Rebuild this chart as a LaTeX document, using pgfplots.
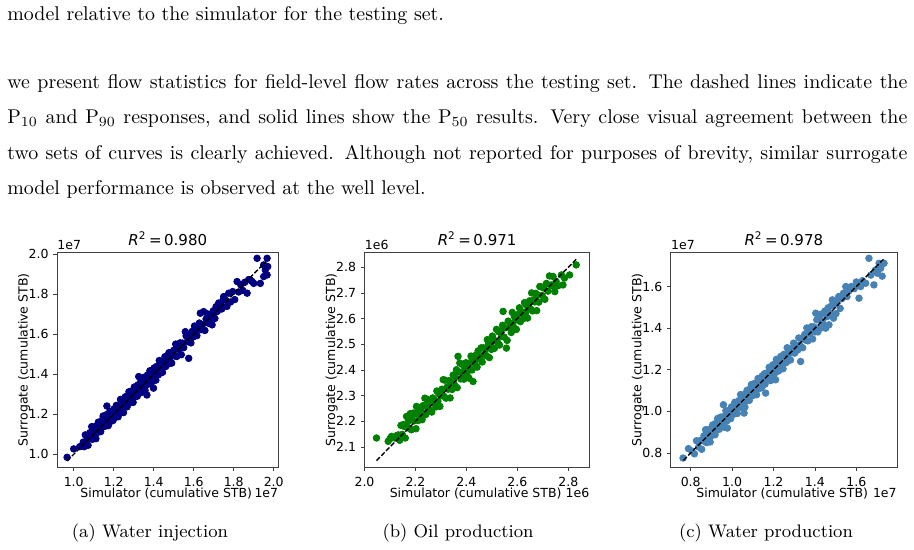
\documentclass[border=0pt]{standalone}
\usepackage{fontspec}
\usepackage{pgfplots}
\pgfplotsset{compat=1.18}
\newfontfamily\djv{DejaVu Sans}
\definecolor{cnavy}{HTML}{000080}
\definecolor{cgreen}{HTML}{008000}
\definecolor{csteel}{HTML}{4682B4}
\newcommand{\mplfont}{\djv\fontsize{6.25}{7.5}\selectfont}
\newcommand{\mpltitle}{\djv\fontsize{7.5}{9}\selectfont}

\pgfplotsset{
  sc/.style={
    scale only axis,
    height=107.2pt,
    anchor=south west,
    axis line style={black!75, line width=0.45pt},
    tick align=outside,
    xtick pos=left, ytick pos=left,
    major tick length=1.8pt,
    tick style={black!75, line width=0.4pt},
    ticklabel style={font=\mplfont},
    yticklabel style={xshift=1.1pt},
    clip=true,
    clip mode=individual,
  },
  pts/.style={only marks, mark=*, mark size=1.65pt},
  diag/.style={black, line width=0.7pt, dash pattern=on 2.4pt off 1pt},
}

\pgfplotstableread{
x y
0.967 0.985
1.000 1.027
1.030 1.038
1.048 1.061
1.052 1.038
1.058 1.097
1.063 1.062
1.067 1.089
1.072 1.045
1.076 1.086
1.081 1.108
1.086 1.080
1.090 1.138
1.094 1.075
1.099 1.115
1.103 1.108
1.107 1.139
1.111 1.078
1.115 1.134
1.119 1.109
1.123 1.160
1.127 1.129
1.131 1.155
1.135 1.113
1.139 1.168
1.143 1.139
1.147 1.191
1.151 1.158
1.155 1.139
1.159 1.176
1.162 1.197
1.166 1.241
1.169 1.161
1.173 1.143
1.176 1.189
1.180 1.213
1.183 1.163
1.187 1.193
1.190 1.180
1.194 1.212
1.197 1.169
1.200 1.225
1.204 1.199
1.207 1.212
1.210 1.188
1.213 1.244
1.216 1.207
1.219 1.233
1.222 1.187
1.225 1.227
1.228 1.247
1.231 1.217
1.234 1.274
1.237 1.210
1.240 1.248
1.243 1.240
1.246 1.270
1.249 1.208
1.252 1.263
1.255 1.237
1.258 1.287
1.261 1.255
1.264 1.280
1.267 1.237
1.270 1.291
1.273 1.261
1.276 1.312
1.279 1.278
1.282 1.258
1.285 1.294
1.288 1.315
1.291 1.275
1.294 1.297
1.297 1.259
1.300 1.313
1.303 1.336
1.306 1.286
1.309 1.315
1.312 1.302
1.315 1.333
1.318 1.290
1.321 1.346
1.325 1.388
1.327 1.322
1.330 1.325
1.333 1.358
1.336 1.308
1.339 1.357
1.342 1.332
1.345 1.351
1.348 1.328
1.351 1.384
1.354 1.367
1.357 1.319
1.360 1.363
1.363 1.347
1.366 1.296
1.369 1.396
1.372 1.381
1.375 1.351
1.378 1.377
1.381 1.417
1.384 1.372
1.387 1.408
1.390 1.360
1.393 1.409
1.396 1.390
1.399 1.330
1.402 1.431
1.405 1.387
1.408 1.419
1.411 1.370
1.414 1.438
1.417 1.414
1.420 1.428
1.424 1.397
1.428 1.468
1.432 1.418
1.436 1.455
1.440 1.442
1.444 1.409
1.448 1.462
1.452 1.443
1.456 1.487
1.460 1.438
1.464 1.469
1.468 1.473
1.472 1.450
1.476 1.507
1.480 1.471
1.485 1.499
1.490 1.455
1.495 1.497
1.500 1.519
1.505 1.491
1.510 1.550
1.515 1.488
1.520 1.528
1.526 1.523
1.532 1.556
1.538 1.497
1.544 1.555
1.550 1.532
1.558 1.612
1.562 1.591
1.568 1.562
1.575 1.479
1.580 1.596
1.586 1.556
1.592 1.613
1.598 1.586
1.604 1.640
1.610 1.609
1.616 1.592
1.622 1.631
1.628 1.655
1.633 1.704
1.638 1.622
1.644 1.647
1.650 1.712
1.656 1.618
1.662 1.675
1.668 1.701
1.674 1.654
1.680 1.686
1.686 1.676
1.692 1.646
1.698 1.716
1.700 1.704
1.706 1.678
1.712 1.737
1.718 1.713
1.725 1.755
1.733 1.745
1.740 1.725
1.748 1.773
1.750 1.787
1.758 1.770
1.766 1.738
1.775 1.804
1.784 1.760
1.795 1.812
1.805 1.772
1.817 1.862
1.825 1.810
1.835 1.846
1.845 1.818
1.855 1.858
1.867 1.804
1.875 1.872
1.883 1.870
1.892 1.862
1.900 1.853
1.917 1.978
1.933 1.853
1.950 1.945
1.950 1.887
1.958 1.920
1.967 1.978
1.967 1.895
1.970 1.937
}\dataA

\pgfplotstableread{
x y
2.047 2.135
2.093 2.122
2.100 2.132
2.106 2.141
2.119 2.135
2.126 2.144
2.132 2.147
2.138 2.126
2.143 2.184
2.148 2.149
2.152 2.187
2.156 2.180
2.160 2.135
2.165 2.219
2.168 2.180
2.172 2.201
2.176 2.172
2.180 2.230
2.184 2.167
2.188 2.206
2.191 2.232
2.195 2.202
2.198 2.232
2.202 2.171
2.204 2.258
2.207 2.228
2.211 2.203
2.214 2.253
2.218 2.222
2.222 2.248
2.226 2.206
2.230 2.261
2.233 2.231
2.237 2.290
2.240 2.226
2.244 2.263
2.248 2.285
2.252 2.246
2.256 2.245
2.260 2.273
2.264 2.236
2.268 2.291
2.272 2.277
2.276 2.282
2.280 2.256
2.284 2.318
2.288 2.278
2.292 2.307
2.296 2.258
2.300 2.302
2.304 2.325
2.309 2.362
2.312 2.297
2.316 2.360
2.320 2.290
2.324 2.333
2.328 2.325
2.332 2.358
2.336 2.291
2.340 2.352
2.344 2.324
2.348 2.380
2.352 2.345
2.356 2.374
2.361 2.401
2.364 2.331
2.367 2.453
2.370 2.393
2.374 2.427
2.378 2.365
2.382 2.422
2.386 2.385
2.390 2.364
2.394 2.404
2.398 2.428
2.402 2.384
2.406 2.409
2.410 2.368
2.414 2.428
2.418 2.454
2.422 2.400
2.426 2.355
2.430 2.437
2.434 2.423
2.438 2.458
2.442 2.411
2.446 2.474
2.450 2.444
2.454 2.448
2.458 2.486
2.462 2.431
2.466 2.486
2.470 2.459
2.474 2.481
2.478 2.456
2.482 2.518
2.486 2.500
2.490 2.448
2.494 2.497
2.498 2.480
2.502 2.532
2.506 2.516
2.510 2.484
2.514 2.513
2.518 2.558
2.522 2.509
2.526 2.549
2.530 2.497
2.534 2.552
2.538 2.531
2.542 2.574
2.544 2.628
2.548 2.528
2.552 2.564
2.557 2.485
2.560 2.515
2.564 2.590
2.568 2.565
2.572 2.581
2.576 2.546
2.580 2.624
2.584 2.569
2.588 2.609
2.592 2.594
2.596 2.558
2.600 2.615
2.604 2.594
2.608 2.642
2.612 2.588
2.616 2.622
2.620 2.626
2.624 2.600
2.628 2.662
2.632 2.622
2.636 2.651
2.640 2.602
2.644 2.646
2.648 2.669
2.652 2.637
2.656 2.700
2.660 2.630
2.664 2.673
2.668 2.665
2.672 2.698
2.676 2.631
2.680 2.692
2.684 2.664
2.688 2.725
2.692 2.724
2.697 2.690
2.702 2.720
2.708 2.675
2.714 2.737
2.720 2.707
2.726 2.766
2.732 2.731
2.740 2.764
2.745 2.722
2.747 2.705
2.752 2.745
2.760 2.728
2.773 2.770
2.779 2.731
2.785 2.758
2.805 2.770
2.831 2.809
}\dataB

\pgfplotstableread{
x y
0.763 0.776
0.789 0.821
0.805 0.810
0.818 0.796
0.828 0.859
0.838 0.829
0.846 0.860
0.853 0.818
0.858 0.860
0.864 0.883
0.869 0.855
0.872 0.912
0.877 0.850
0.882 0.890
0.886 0.883
0.890 0.914
0.894 0.853
0.898 0.909
0.902 0.884
0.906 0.935
0.910 0.904
0.914 0.930
0.918 0.888
0.922 0.943
0.926 0.914
0.930 0.966
0.934 0.933
0.938 0.914
0.942 0.951
0.946 0.973
0.950 0.934
0.954 0.957
0.958 1.032
0.962 0.924
0.966 0.979
0.970 1.003
0.974 0.954
0.977 0.920
0.981 0.987
0.985 0.975
0.989 1.007
0.993 0.965
0.997 1.022
1.001 0.996
1.005 1.010
1.009 0.987
1.013 1.044
1.017 1.008
1.021 1.035
1.025 0.990
1.029 1.031
1.033 1.052
1.037 1.023
1.041 1.081
1.045 1.018
1.049 1.057
1.053 1.050
1.056 1.080
1.058 0.992
1.062 1.021
1.065 1.076
1.069 1.051
1.072 1.101
1.076 1.070
1.079 1.095
1.083 1.053
1.086 1.107
1.090 1.078
1.093 1.129
1.097 1.096
1.100 1.076
1.104 1.113
1.107 1.134
1.111 1.095
1.114 1.117
1.118 1.080
1.121 1.134
1.125 1.158
1.128 1.108
1.132 1.138
1.135 1.125
1.139 1.157
1.142 1.114
1.146 1.171
1.149 1.144
1.153 1.148
1.156 1.181
1.159 1.131
1.162 1.088
1.166 1.184
1.169 1.159
1.172 1.178
1.176 1.156
1.179 1.212
1.183 1.196
1.186 1.148
1.190 1.193
1.193 1.177
1.197 1.224
1.200 1.209
1.204 1.180
1.207 1.206
1.210 1.152
1.214 1.250
1.217 1.205
1.221 1.242
1.224 1.194
1.228 1.244
1.231 1.225
1.235 1.264
1.238 1.220
1.242 1.253
1.246 1.205
1.250 1.274
1.254 1.251
1.258 1.266
1.262 1.235
1.266 1.306
1.270 1.256
1.274 1.293
1.278 1.280
1.282 1.247
1.287 1.301
1.292 1.283
1.297 1.328
1.302 1.280
1.307 1.312
1.312 1.317
1.317 1.295
1.322 1.353
1.327 1.318
1.331 1.240
1.336 1.350
1.341 1.306
1.346 1.348
1.351 1.370
1.356 1.342
1.361 1.401
1.366 1.339
1.371 1.379
1.377 1.374
1.383 1.407
1.389 1.348
1.395 1.406
1.400 1.382
1.404 1.472
1.409 1.440
1.414 1.382
1.420 1.455
1.426 1.400
1.432 1.468
1.436 1.432
1.442 1.410
1.448 1.482
1.452 1.400
1.458 1.455
1.464 1.498
1.468 1.416
1.474 1.472
1.480 1.508
1.484 1.536
1.490 1.448
1.496 1.515
1.502 1.470
1.508 1.530
1.515 1.552
1.522 1.495
1.530 1.542
1.538 1.568
1.549 1.600
1.555 1.552
1.565 1.580
1.575 1.600
1.590 1.590
1.600 1.622
1.613 1.544
1.621 1.600
1.630 1.628
1.645 1.616
1.661 1.736
1.670 1.655
1.685 1.608
1.693 1.680
1.702 1.664
1.710 1.712
1.718 1.688
1.725 1.650
1.734 1.712
}\dataC

\begin{document}
\begin{tikzpicture}
\path[use as bounding box] (0,0) rectangle (457pt,-275pt);
\fill[white] (0,0) rectangle (457pt,-275pt);

% body text
\begin{scope}[every node/.style={inner sep=0pt, anchor=base west, font=\fontsize{9.95}{12}\selectfont}]
\node at (3.5pt,-10.25pt) {model relative to the simulator for the testing set.};
\node at (3.5pt,-44.5pt) {\makebox[450pt][s]{we present flow statistics for field-level flow rates across the testing set. The dashed lines indicate the}};
\node at (3.5pt,-62pt) {\makebox[450pt][s]{P$_{10}$ and P$_{90}$ responses, and solid lines show the P$_{50}$ results. Very close visual agreement between the}};
\node at (3.5pt,-79.75pt) {\makebox[450pt][s]{two sets of curves is clearly achieved. Although not reported for purposes of brevity, similar surrogate}};
\node at (3.5pt,-97.5pt) {model performance is observed at the well level.};
\end{scope}

% captions
\begin{scope}[every node/.style={inner sep=0pt, anchor=base, font=\fontsize{9.08}{11}\selectfont}]
\node at (75pt,-268.75pt) {(a) Water injection};
\node at (229pt,-268.75pt) {(b) Oil production};
\node at (383pt,-268.75pt) {(c) Water production};
\end{scope}

% ---------- (a)
\begin{axis}[sc, at={(28.5pt,-233.5pt)}, width=110.75pt,
  xmin=0.9165, xmax=2.024, ymin=0.9366, ymax=2.0065,
  xtick={1.0,1.2,1.4,1.6,1.8,2.0}, xticklabels={1.0,1.2,1.4,1.6,1.8,2.0},
  ytick={1.0,1.2,1.4,1.6,1.8,2.0}, yticklabels={1.0,1.2,1.4,1.6,1.8,2.0}]
\addplot[pts, color=cnavy] table {\dataA};
\addplot[diag] coordinates {(0.967,0.967) (1.962,1.962)};
\end{axis}

% ---------- (b)
\begin{axis}[sc, at={(182.25pt,-233.5pt)}, width=112.6pt,
  xmin=2.0, xmax=2.884, ymin=2.022, ymax=2.857,
  xtick={2.0,2.2,2.4,2.6,2.8}, xticklabels={2.0,2.2,2.4,2.6,2.8},
  ytick={2.1,2.2,2.3,2.4,2.5,2.6,2.7,2.8}, yticklabels={2.1,2.2,2.3,2.4,2.5,2.6,2.7,2.8}]
\addplot[pts, color=cgreen] table {\dataB};
\addplot[diag] coordinates {(2.047,2.047) (2.833,2.833)};
\end{axis}

% ---------- (c)
\begin{axis}[sc, at={(335.35pt,-233.5pt)}, width=113.15pt,
  xmin=0.7034, xmax=1.7966, ymin=0.7328, ymax=1.7632,
  xtick={0.8,1.0,1.2,1.4,1.6}, xticklabels={0.8,1.0,1.2,1.4,1.6},
  ytick={0.8,1.0,1.2,1.4,1.6}, yticklabels={0.8,1.0,1.2,1.4,1.6}]
\addplot[pts, color=csteel] table {\dataC};
\addplot[diag] coordinates {(0.765,0.765) (1.735,1.735)};
\end{axis}

% titles, axis labels and offset texts
\begin{scope}[every node/.style={inner sep=0pt}]
\node[anchor=base, font=\mpltitle] at (83.9pt,-123pt) {\textit{R}\textsuperscript{2}\,=\,0.980};
\node[anchor=base west, font=\mplfont] at (28.5pt,-124.95pt) {1e7};
\node[anchor=base east, font=\mplfont] at (139.25pt,-248.6pt) {1e7};
\node[anchor=base, font=\mplfont] at (83.1pt,-248.6pt) {Simulator (cumulative STB)};
\node[anchor=base, font=\mplfont, rotate=90] at (13.8pt,-179.9pt) {Surrogate (cumulative STB)};
\node[anchor=base, font=\mpltitle] at (238.55pt,-123pt) {\textit{R}\textsuperscript{2}\,=\,0.971};
\node[anchor=base west, font=\mplfont] at (182.25pt,-124.95pt) {1e6};
\node[anchor=base east, font=\mplfont] at (294.85pt,-248.6pt) {1e6};
\node[anchor=base, font=\mplfont] at (237.8pt,-248.6pt) {Simulator (cumulative STB)};
\node[anchor=base, font=\mplfont, rotate=90] at (167.55pt,-179.9pt) {Surrogate (cumulative STB)};
\node[anchor=base, font=\mpltitle] at (391.9pt,-123pt) {\textit{R}\textsuperscript{2}\,=\,0.978};
\node[anchor=base west, font=\mplfont] at (335.35pt,-124.95pt) {1e7};
\node[anchor=base east, font=\mplfont] at (448.5pt,-248.6pt) {1e7};
\node[anchor=base, font=\mplfont] at (391.1pt,-248.6pt) {Simulator (cumulative STB)};
\node[anchor=base, font=\mplfont, rotate=90] at (320.65pt,-179.9pt) {Surrogate (cumulative STB)};
\end{scope}
\end{tikzpicture}
\end{document}
